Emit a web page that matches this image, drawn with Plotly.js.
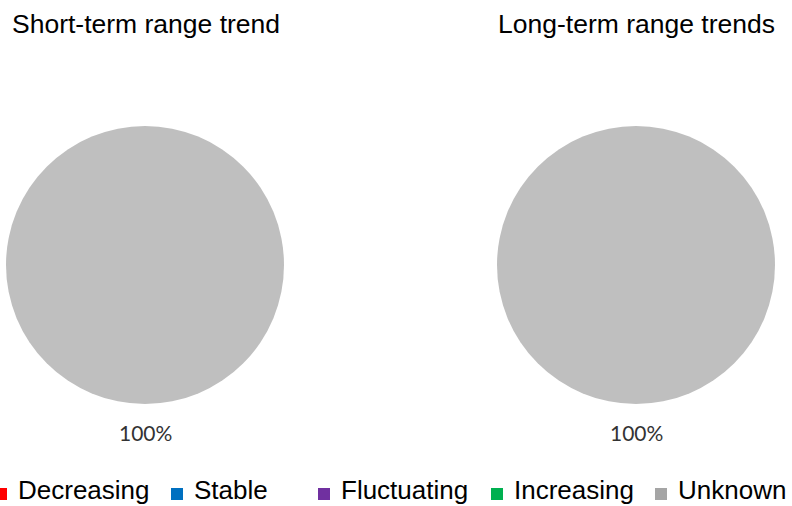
<!DOCTYPE html>
<html>
<head>
<meta charset="utf-8">
<script src="https://cdn.plot.ly/plotly-3.0.1.min.js"></script>
<style>html,body{margin:0;padding:0;background:#fff;}#chart{width:792px;height:506px;}</style>
</head>
<body>
<div id="chart"></div>
<script>
// ---- data ----
var categories = ["Decreasing", "Stable", "Fluctuating", "Increasing", "Unknown"];
var legendColors = ["#ff0000", "#0070c0", "#7030a0", "#00b050", "#a5a5a5"];
var sliceColors = ["#ff0000", "#0070c0", "#7030a0", "#00b050", "#bfbfbf"];
var chartTitles = ["Short-term range trend", "Long-term range trends"];
var shortTermValues = [0, 0, 0, 0, 100];
var longTermValues = [0, 0, 0, 0, 100];

// ---- layout helpers (pixels -> paper) ----
var W = 792, H = 506;
function px(x) { return x / W; }
function py(y) { return 1 - y / H; }

var pieCenters = [145, 636];
var pieCy = 265, pieR = 139;
var seriesList = [shortTermValues, longTermValues];

var traces = [];
var annotations = [];
var shapes = [];

seriesList.forEach(function (vals, i) {
  var labels = [], values = [], colors = [];
  var total = vals.reduce(function (a, b) { return a + b; }, 0);
  vals.forEach(function (v, k) {
    if (v > 0) { labels.push(categories[k]); values.push(v); colors.push(sliceColors[k]); }
  });
  traces.push({
    type: "pie",
    labels: labels,
    values: values,
    marker: { colors: colors, line: { width: 0 } },
    textinfo: "none",
    hoverinfo: "label+percent",
    sort: false,
    showlegend: false,
    domain: {
      x: [px(pieCenters[i] - pieR), px(pieCenters[i] + pieR)],
      y: [py(pieCy + pieR), py(pieCy - pieR)]
    }
  });
  // percent labels below the pie
  values.forEach(function (v) {
    annotations.push({
      xref: "paper", yref: "paper",
      x: px(pieCenters[i]), y: py(432),
      xanchor: "center", yanchor: "middle",
      text: Math.round(v / total * 100) + "%",
      showarrow: false,
      font: { family: "Lato, 'Open Sans', sans-serif", size: 21, color: "#333333" }
    });
  });
  annotations.push({
    xref: "paper", yref: "paper",
    x: px(i === 0 ? 10 : 496), y: py(24),
    xanchor: "left", yanchor: "middle",
    text: chartTitles[i],
    showarrow: false,
    font: { family: "'Liberation Sans', Arial, sans-serif", size: 26.5, color: "#000000" }
  });
});

// custom legend
var squareLeft = [-5, 171, 318, 491, 655];
categories.forEach(function (c, k) {
  shapes.push({
    type: "rect", xref: "paper", yref: "paper",
    x0: px(squareLeft[k]), x1: px(squareLeft[k] + 12),
    y0: py(500), y1: py(488),
    fillcolor: legendColors[k], line: { width: 0 }
  });
  annotations.push({
    xref: "paper", yref: "paper",
    x: px(squareLeft[k] + 22), y: 0,
    xanchor: "left", yanchor: "bottom",
    borderpad: 0,
    text: c, showarrow: false,
    font: { family: "'Liberation Sans', Arial, sans-serif", size: 26, color: "#000000" }
  });
});

var layout = {
  width: W, height: H,
  margin: { l: 0, r: 0, t: 0, b: 0 },
  paper_bgcolor: "#ffffff",
  plot_bgcolor: "#ffffff",
  showlegend: false,
  annotations: annotations,
  shapes: shapes
};

Plotly.newPlot("chart", traces, layout, { displayModeBar: false, responsive: false });
</script>
</body>
</html>
